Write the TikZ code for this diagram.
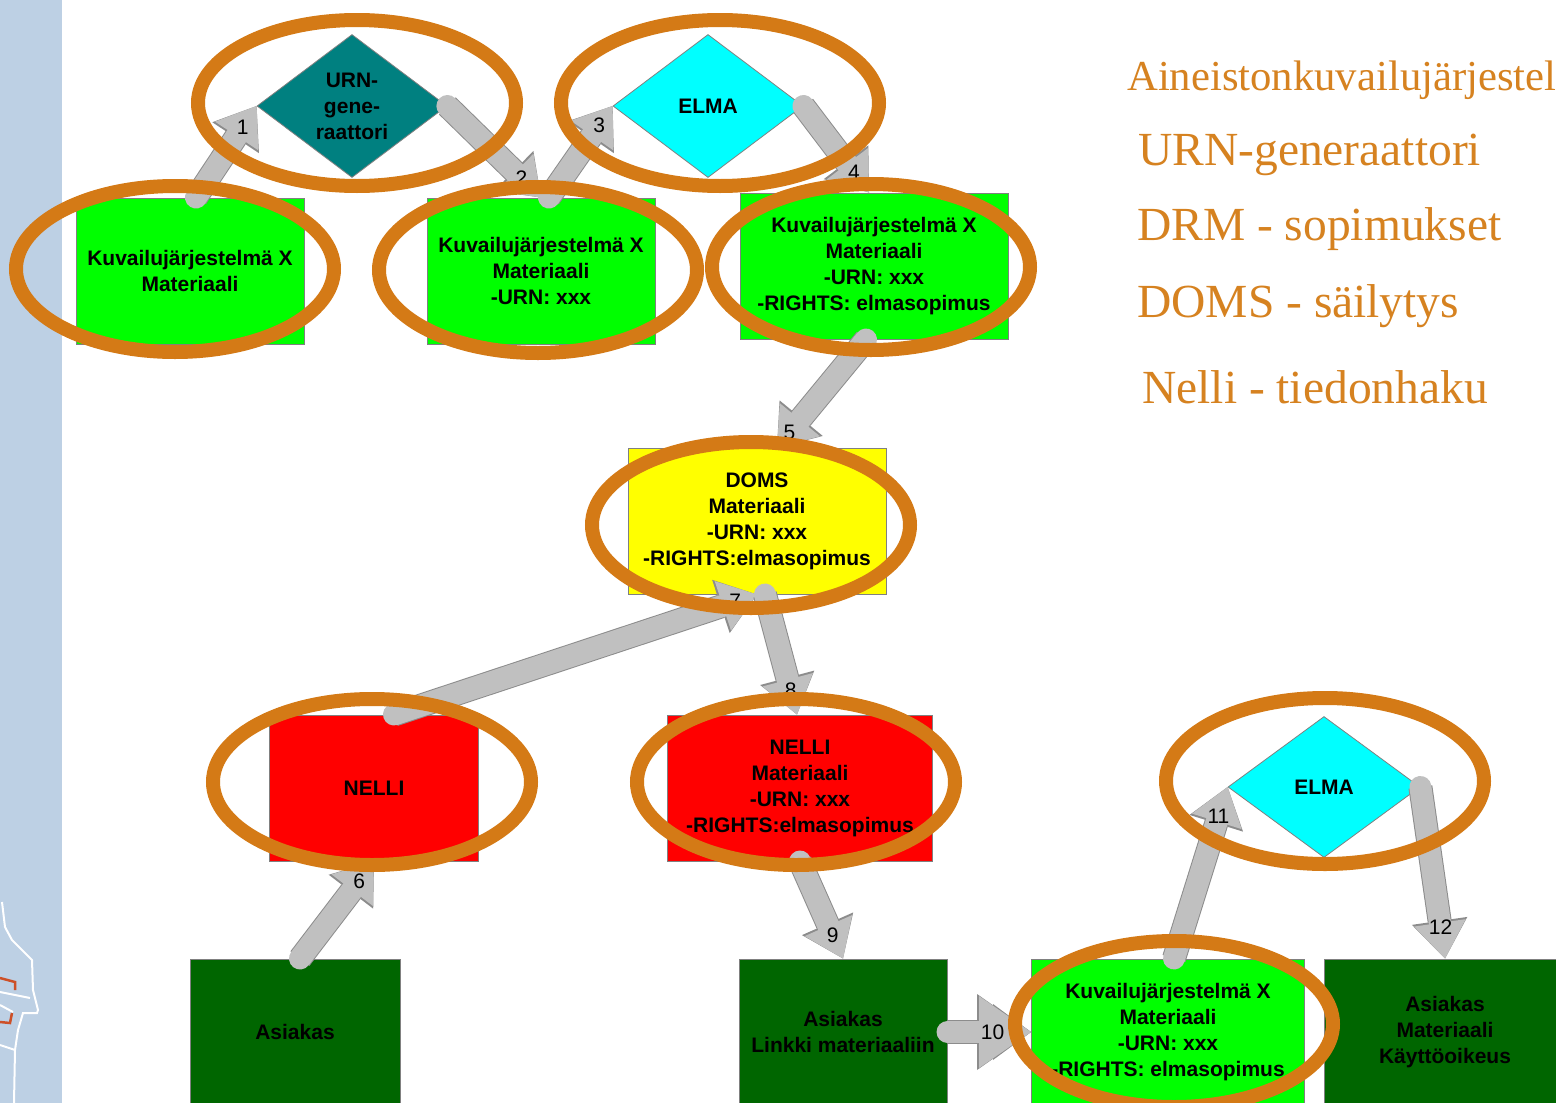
\documentclass[tikz,border=0pt]{standalone}
\usepackage{fontspec}
\setsansfont{Liberation Sans}
\setmainfont{Liberation Serif}
\usetikzlibrary{arrows.meta, positioning, shapes.geometric}

\definecolor{stripblue}{RGB}{189,208,228}
\definecolor{ringorange}{RGB}{212,122,22}
\definecolor{textorange}{RGB}{214,130,32}
\definecolor{boxgreen}{RGB}{0,255,0}
\definecolor{darkbox}{RGB}{0,102,0}
\definecolor{boxred}{RGB}{255,0,0}
\definecolor{boxyellow}{RGB}{255,255,0}
\definecolor{elmacyan}{RGB}{0,255,255}
\definecolor{urnteal}{RGB}{0,128,128}
\definecolor{flowgray}{RGB}{192,192,192}
\definecolor{flowrim}{RGB}{140,140,140}
\definecolor{sketchred}{RGB}{205,80,40}

\newcommand\boxtext{\sffamily\bfseries\fontsize{21}{26}\selectfont}
\newcommand\numtext{\sffamily\fontsize{21}{21}\selectfont}
\newcommand\legendtext{\rmfamily\fontsize{47.5}{50}\selectfont}
\newcommand\titletext{\rmfamily\fontsize{42.7}{46}\selectfont}

\begin{document}
\begin{tikzpicture}[
	x=1pt, y=-1pt,
	box/.style = {draw=gray, line width=1pt, minimum height=146pt, inner sep=0pt,
		align=center, font=\boxtext},
	gate/.style = {diamond, draw=gray, line width=0.8pt, aspect=1.33,
		minimum width=190pt, minimum height=143pt, inner sep=0pt,
		align=center, font=\boxtext},
	flow/.style = {draw=flowgray, line width=22pt, line cap=round,
		-{Triangle[length=36pt, width=52pt, line width=0pt]},
		preaction={draw=flowrim, line width=24pt,
			-{Triangle[length=38pt, width=56pt, line width=0pt]}}},
	bigflow/.style = {flow, -{Triangle[length=52pt, width=72pt, line width=0pt]},
		preaction={draw=flowrim, line width=24pt,
			-{Triangle[length=54pt, width=76pt, line width=0pt]}}},
	num/.style = {font=\numtext, inner sep=0pt},
	ring/.style = {draw=ringorange, line width=14pt},
	legend/.style = {anchor=base west, inner sep=0pt, text=textorange, font=\legendtext}
	]
	\useasboundingbox (0,0) rectangle (1556,1103);
	\fill[white] (0,0) rectangle (1556,1103);
	\fill[stripblue] (0,0) rectangle (62,1103);
% sketch in the strip
	\draw[white, line width=2pt] (2,902) -- (5,927) -- (12,940) -- (20,948) -- (32,960)
		-- (33,990) -- (38,1010) -- (37,1013) -- (23,1013) -- (18,1030) -- (15,1050) -- (14,1103);
	\draw[white, line width=2pt] (0,992) -- (30,998) (0,1005) -- (13,1012) (0,1045) -- (15,1050);
	\draw[sketchred, line width=2.5pt] (0,978) -- (15,982) -- (15,990) (0,1022) -- (10,1023) -- (12,1013);
%
	\node[gate, fill=urnteal] (urn) at (352,106) {URN-\\gene-\\raattori};
	\node[gate, fill=elmacyan] (elma) at (708,106) {ELMA};
	\node[gate, fill=elmacyan, minimum width=192pt, minimum height=141pt] (elma2) at (1324,787) {ELMA};
%
	\node[box, fill=boxgreen, minimum width=228pt] (kuv1) at (190,271) {Kuvailujärjestelmä X\\Materiaali};
	\node[box, fill=boxgreen, minimum width=228pt] (kuv2) at (541,271) {Kuvailujärjestelmä X\\Materiaali\\-URN: xxx};
	\node[box, fill=boxgreen, minimum width=268pt] (kuv3) at (874,266) {Kuvailujärjestelmä X\\Materiaali\\-URN: xxx\\-RIGHTS: elmasopimus};
	\node[box, fill=boxyellow, minimum width=258pt] (doms) at (757,521) {DOMS\\Materiaali\\-URN: xxx\\-RIGHTS:elmasopimus};
	\node[box, fill=boxred, minimum width=209pt] (nelli) at (374,788) {NELLI};
	\node[box, fill=boxred, minimum width=265pt] (nelli2) at (800,788) {NELLI\\Materiaali\\-URN: xxx\\-RIGHTS:elmasopimus};
	\node[box, fill=darkbox, minimum width=210pt] (asiakas) at (295,1032) {Asiakas};
	\node[box, fill=darkbox, minimum width=208pt] (asiakas2) at (843,1032) {Asiakas\\Linkki materiaaliin};
	\node[box, fill=boxgreen, minimum width=273pt] (kuv4) at (1168,1032) {Kuvailujärjestelmä X\\Materiaali\\-URN: xxx\\-RIGHTS: elmasopimus};
	\node[box, fill=darkbox, minimum width=242pt] (asiakas3) at (1445,1032) {Asiakas\\Materiaali\\Käyttöoikeus};
%
	\draw[flow] ([xshift=6pt]kuv1.north) -- node[num, pos=.77] {1} (urn.west);
	\draw[flow] (urn.east) -- node[num, pos=.79] {2} (kuv2.north);
	\draw[flow] ([xshift=8pt]kuv2.north) -- node[num, pos=.79] {3} (elma.west);
	\draw[flow] (elma.east) -- node[num, pos=.77] {4} ([xshift=-5pt]kuv3.north);
	\draw[flow] ([xshift=-8pt]kuv3.south) -- node[num, pos=.86] {5} ([xshift=20pt]doms.north);
	\draw[flow] ([xshift=5pt]asiakas.north) -- node[num, pos=.8] {6} (nelli.south);
	\draw[flow] ([xshift=20pt]nelli.north) -- node[num, pos=.94] {7} (doms.south);
	\draw[flow] ([xshift=8pt]doms.south) -- node[num, pos=.8] {8} ([xshift=-3pt]nelli2.north);
	\draw[flow] (nelli2.south) -- node[num, pos=.76] {9} (asiakas2.north);
	\draw[bigflow] (asiakas2.east) -- node[num, pos=.54] {10} (kuv4.west);
	\draw[flow] ([xshift=6pt]kuv4.north) -- node[num, pos=.83] {11} (elma2.west);
	\draw[flow] (elma2.east) -- node[num, pos=.82] {12} (asiakas3.north);
% rings
	\draw[ring] (357,103) ellipse [x radius=159, y radius=83];
	\draw[ring] (720,103) ellipse [x radius=159, y radius=83];
	\draw[ring] (175,269) ellipse [x radius=159, y radius=83];
	\draw[ring] (538,270) ellipse [x radius=159, y radius=83];
	\draw[ring] (871,267) ellipse [x radius=159, y radius=83];
	\draw[ring] (751,525) ellipse [x radius=159, y radius=83];
	\draw[ring] (372,782) ellipse [x radius=159, y radius=83];
	\draw[ring] (796,782) ellipse [x radius=159, y radius=83];
	\draw[ring] (1325,781) ellipse [x radius=159, y radius=83];
	\draw[ring] (1174,1024) ellipse [x radius=159, y radius=83];
% legend
	\node[legend, font=\titletext] (ttl) at (1127,90) {Aineistonkuvailujärjestel};
	\node[legend] (lurn) at (1138,165) {URN-generaattori};
	\node[legend] (ldrm) at (1137,240) {DRM - sopimukset};
	\node[legend] (ldoms) at (1137,317) {DOMS - säilytys};
	\node[legend] (lnelli) at (1142,403) {Nelli - tiedonhaku};
\end{tikzpicture}
\end{document}
